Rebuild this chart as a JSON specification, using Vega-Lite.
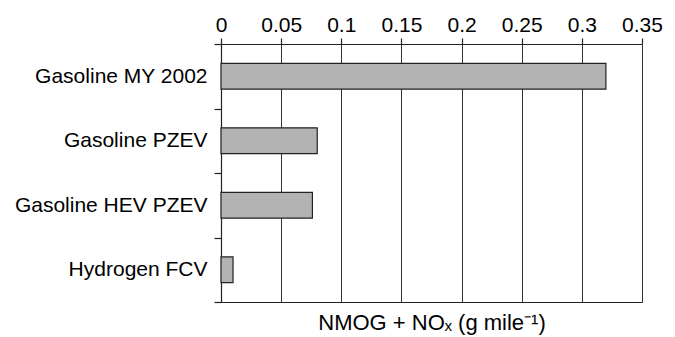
{
  "$schema": "https://vega.github.io/schema/vega-lite/v6.json",
  "width": 421,
  "height": 258,
  "autosize": {"type": "none"},
  "padding": {"left": 221, "top": 44, "right": 33, "bottom": 35},
  "background": "white",
  "config": {
    "view": {"stroke": null},
    "font": "Liberation Sans",
    "axis": {"labelFont": "Liberation Sans", "titleFont": "Liberation Sans", "labelColor": "#000", "titleColor": "#000", "domainColor": "#222", "tickColor": "#222", "gridColor": "#333", "gridOpacity": 1}
  },
  "data": {"values": [
    {"vehicle": "Gasoline MY 2002", "value": 0.320},
    {"vehicle": "Gasoline PZEV", "value": 0.080},
    {"vehicle": "Gasoline HEV PZEV", "value": 0.076},
    {"vehicle": "Hydrogen FCV", "value": 0.010}
  ]},
  "layer": [
    {
      "mark": {"type": "bar", "fill": "#b3b3b3", "stroke": "#222", "strokeWidth": 1.2, "height": {"band": 0.4}},
      "encoding": {
        "y": {"field": "vehicle", "type": "nominal", "sort": null,
              "scale": {"paddingInner": 0, "paddingOuter": 0},
              "axis": {"title": null, "tickBand": "extent", "tickSize": 7, "labelPadding": 7, "labelLimit": 400, "labelFontSize": 21, "domainWidth": 1.2, "tickWidth": 1.2}},
        "x": {"field": "value", "type": "quantitative",
              "scale": {"domain": [0, 0.35], "nice": false},
              "axis": {"orient": "top", "values": [0, 0.05, 0.1, 0.15, 0.2, 0.25, 0.3, 0.35], "format": "~g", "title": null, "grid": true, "labelFlush": false, "tickSize": 6, "labelPadding": 3, "labelFontSize": 21, "domainWidth": 1.2, "tickWidth": 1.2, "gridWidth": 1}}
      }
    },
    {
      "mark": {"type": "bar", "opacity": 0, "height": {"band": 0.4}},
      "encoding": {
        "y": {"field": "vehicle", "type": "nominal", "sort": null},
        "x": {"field": "value", "type": "quantitative",
              "axis": {"orient": "bottom", "labels": false, "ticks": false, "grid": false, "title": "NMOG + NOₓ (g mile⁻¹)", "titleFontSize": 22, "titleFontWeight": "normal", "titlePadding": 10, "domainWidth": 1.2}}
      }
    }
  ],
  "resolve": {"axis": {"x": "independent"}}
}
